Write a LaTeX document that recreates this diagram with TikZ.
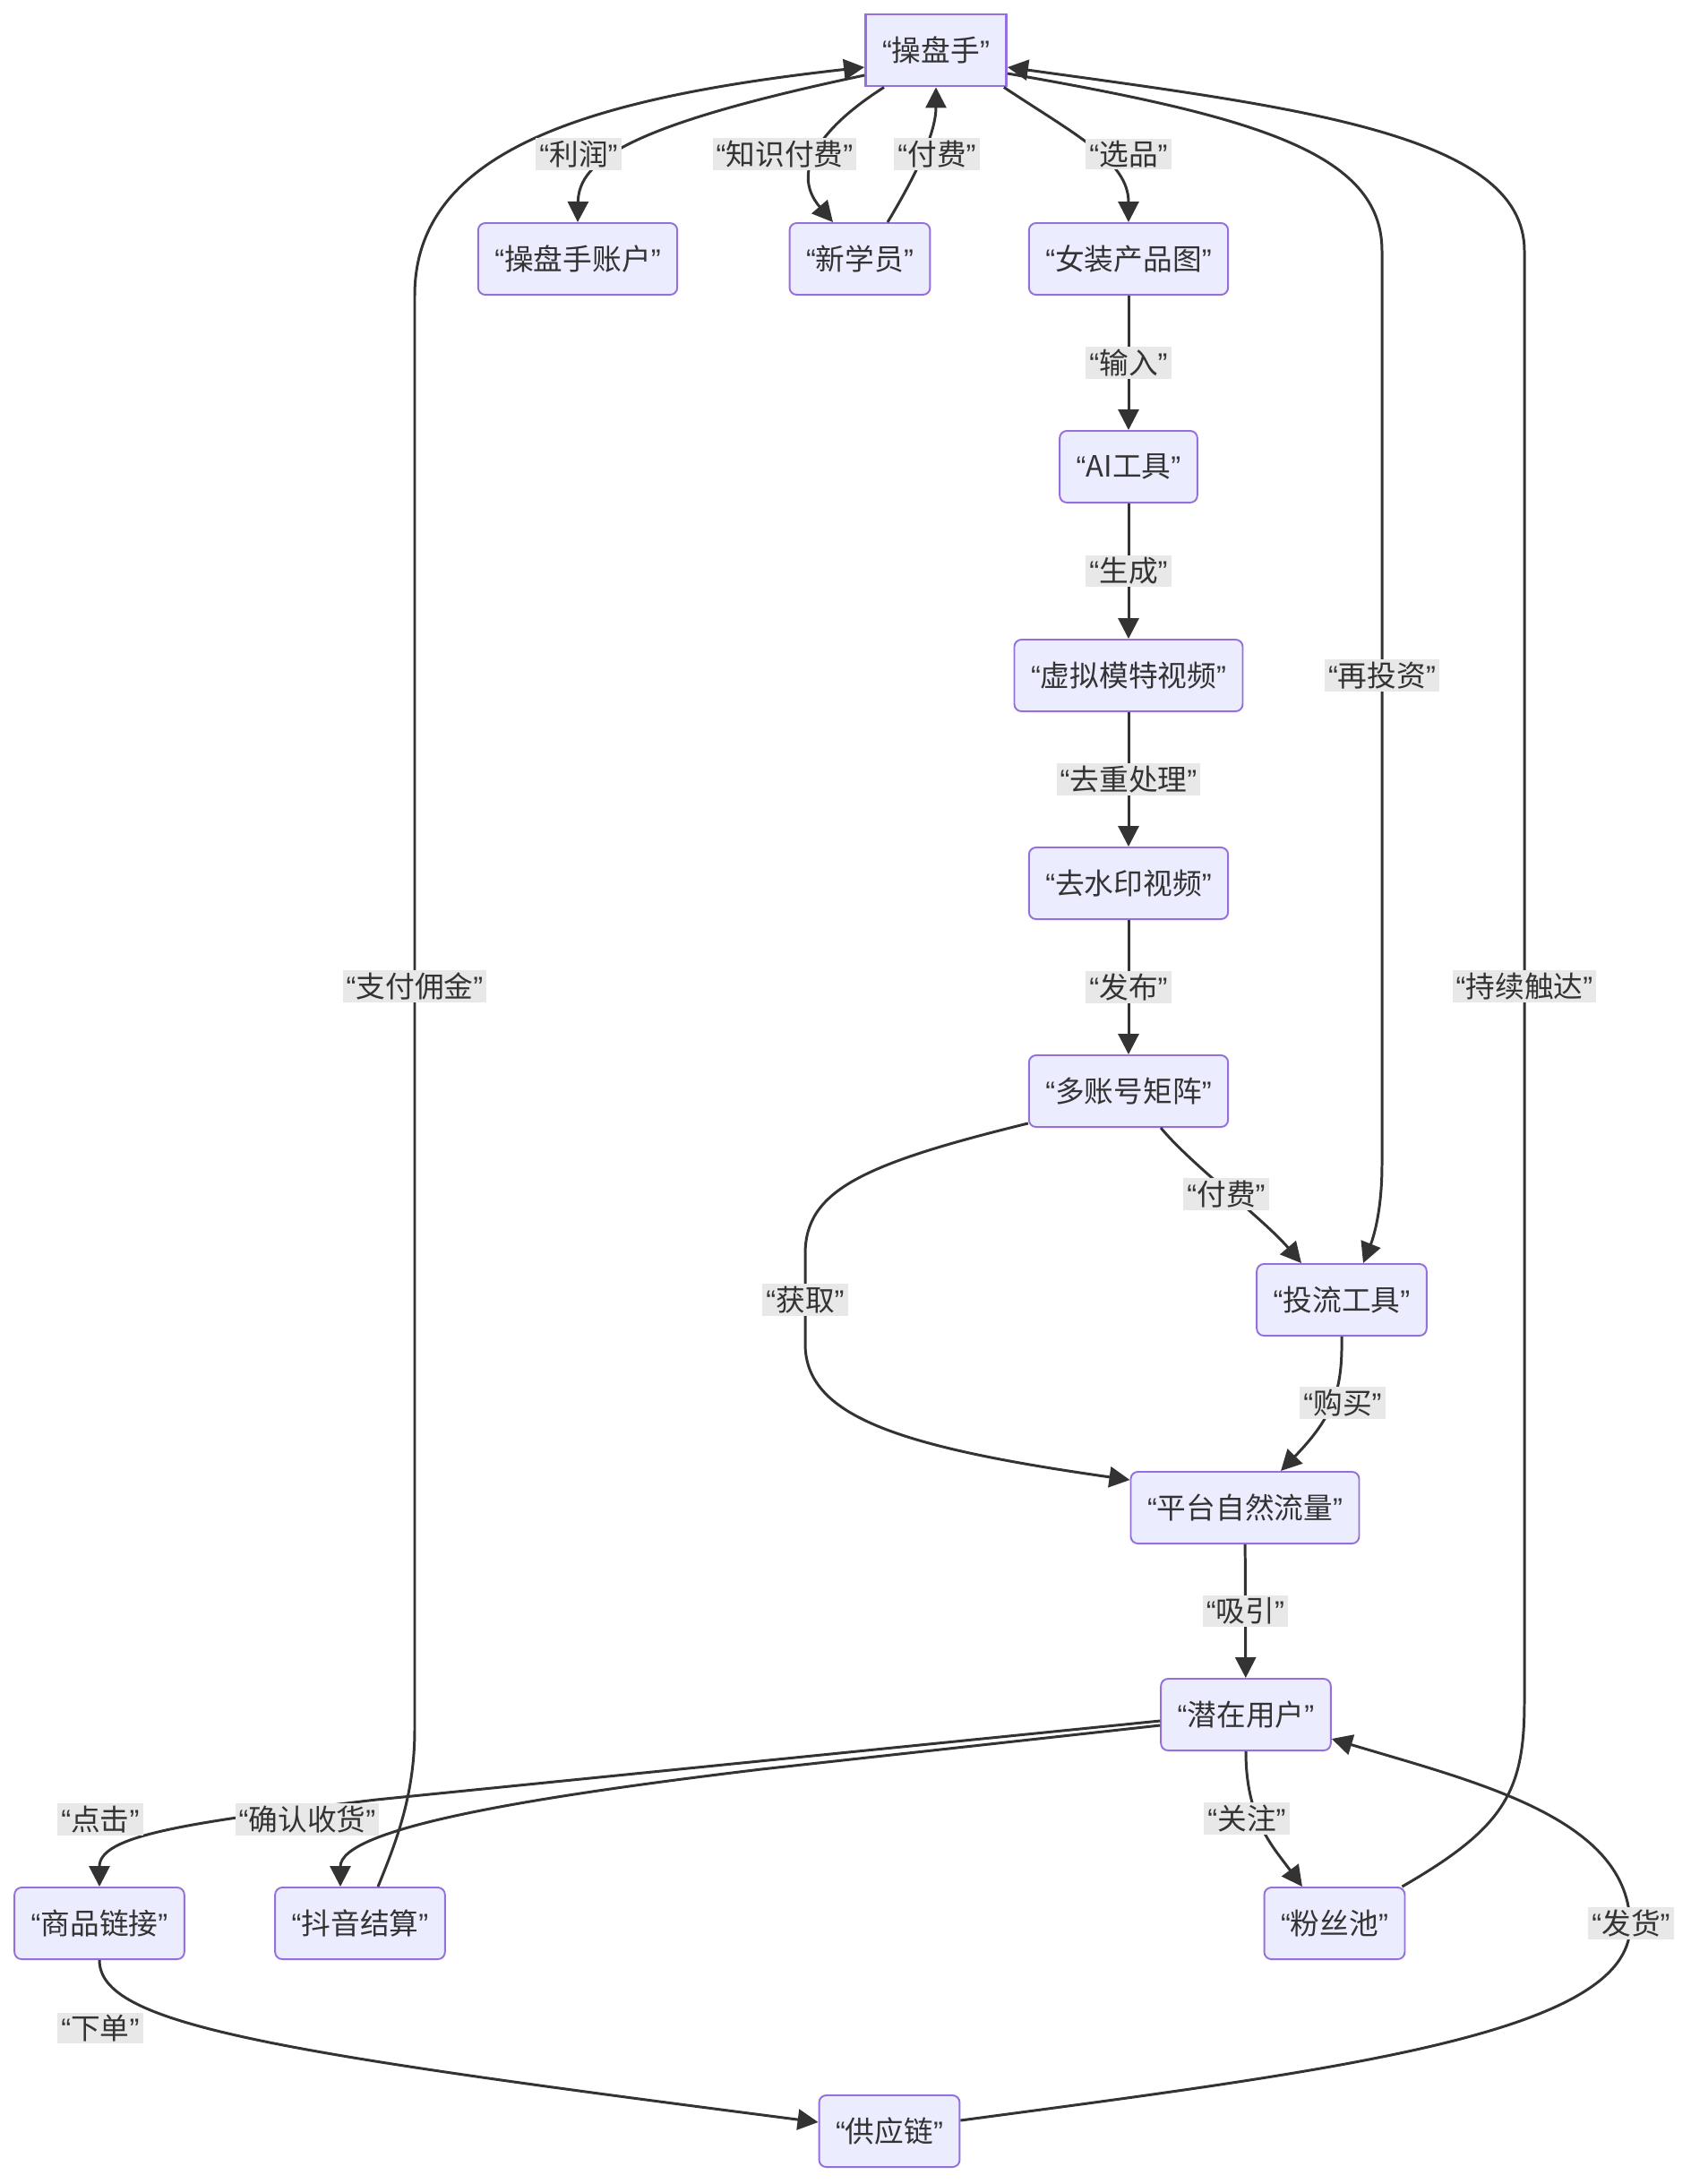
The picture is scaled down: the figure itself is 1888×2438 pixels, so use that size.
\documentclass[tikz,border=0pt]{standalone}
\usepackage{fontspec}
\setmainfont{Noto Sans CJK SC}
\newfontfamily\quotefont{Liberation Sans}
\definecolor{flowFill}{HTML}{ECECFF}
\definecolor{flowBorder}{HTML}{9370DB}
\definecolor{flowInk}{HTML}{333333}
\definecolor{flowTag}{HTML}{E8E8E8}
\usetikzlibrary{arrows.meta, positioning, calc}
\newcommand{\qt}[1]{{\quotefont “}#1{\quotefont ”}}

\begin{document}
\begin{tikzpicture}[x=0.01cm, y=-0.01cm,
      box/.style={draw=flowBorder, fill=flowFill, line width=0.55pt, rounded corners=0.08cm,
                  minimum height=0.8cm, inner xsep=0.185cm, text=flowInk, font=\fontsize{9.3}{11}\selectfont},
      rootbox/.style={box, sharp corners, line width=0.8pt},
      tag/.style={fill=flowTag, inner xsep=0.04cm, inner ysep=0.025cm, text=flowInk, font=\fontsize{9.3}{11}\selectfont},
      flow/.style={draw=flowInk, line width=0.85pt, -{Triangle[length=0.23cm, width=0.23cm]}}]

      \useasboundingbox (0,0) rectangle (1888,2438);

      % Nodes
      \node[rootbox] (op) at (1045,56) {\qt{操盘手}};
      \node[box] (account) at (645,289) {\qt{操盘手账户}};
      \node[box] (student) at (960,289) {\qt{新学员}};
      \node[box] (product) at (1260,289) {\qt{女装产品图}};
      \node[box] (aitool) at (1260,521) {\qt{AI工具}};
      \node[box] (model) at (1260,754) {\qt{虚拟模特视频}};
      \node[box] (clean) at (1260,986) {\qt{去水印视频}};
      \node[box] (matrix) at (1260,1218) {\qt{多账号矩阵}};
      \node[box] (boost) at (1498,1451) {\qt{投流工具}};
      \node[box] (traffic) at (1390,1683) {\qt{平台自然流量}};
      \node[box] (user) at (1391,1914) {\qt{潜在用户}};
      \node[box] (link) at (111,2147) {\qt{商品链接}};
      \node[box] (settle) at (402,2147) {\qt{抖音结算}};
      \node[box] (fans) at (1490,2147) {\qt{粉丝池}};
      \node[box] (supply) at (993,2379) {\qt{供应链}};

      % Top fan-out
      \draw[flow] ([yshift=-0.28cm]op.west) .. controls (700,140) and (646,180) .. (account.north);
      \draw[flow] ([xshift=-0.58cm]op.south) .. controls (920,140) and (880,190) .. ([xshift=-0.3cm]student.north);
      \draw[flow] ([xshift=0.31cm]student.north) .. controls (1020,200) and (1045,150) .. (op.south);
      \draw[flow] ([xshift=-0.04cm]op.south east) .. controls (1200,150) and (1260,180) .. (product.north);

      % Content pipeline
      \draw[flow] (product) -- node[tag] {\qt{输入}} (aitool);
      \draw[flow] (aitool) -- node[tag] {\qt{生成}} (model);
      \draw[flow] (model) -- node[tag] {\qt{去重处理}} (clean);
      \draw[flow] (clean) -- node[tag] {\qt{发布}} (matrix);

      % Traffic
      \draw[flow] ([xshift=0.36cm]matrix.south) .. controls (1330,1300) and (1410,1360) .. ([xshift=-0.45cm]boost.north);
      \draw[flow] ([yshift=0.05cm]matrix.south west) .. controls (960,1300) and (899,1330) .. (899,1400)
                  -- (899,1500) .. controls (899,1580) and (1000,1615) .. ([yshift=-0.1cm]traffic.north west);
      \draw[flow] (boost.south) .. controls (1499,1550) and (1490,1580) .. ([xshift=0.4cm]traffic.north);
      \draw[flow] (traffic) -- node[tag] {\qt{吸引}} (user);
      \draw[flow] ([yshift=-0.26cm]op.east) .. controls (1400,130) and (1543,170) .. (1543,280)
                  -- (1543,1300) .. controls (1543,1360) and (1530,1390) .. ([xshift=0.24cm]boost.north);

      % Users and orders
      \draw[flow] (user.south) .. controls (1391,2030) and (1420,2060) .. ([xshift=-0.36cm]fans.north);
      \draw[flow] ([yshift=-0.07cm]user.west) -- (420,2009) .. controls (200,2035) and (111,2050) .. (link.north);
      \draw[flow] ([yshift=-0.12cm]user.west) -- (850,1975) .. controls (600,2005) and (380,2040) .. ([xshift=-0.22cm]settle.north);
      \draw[flow] (link.south) .. controls (111,2260) and (300,2290) .. ([yshift=0.1cm]supply.west);
      \draw[flow] ([yshift=0.12cm]supply.east) .. controls (1500,2310) and (1820,2270) .. (1820,2150)
                  .. controls (1820,2030) and (1650,1990) .. ([yshift=-0.27cm]user.east);

      % Loops back to the operator
      \draw[flow] ([xshift=0.2cm]settle.north) .. controls (445,2050) and (463,2000) .. (463,1930)
                  -- (463,330) .. controls (463,170) and (650,110) .. ([yshift=-0.19cm]op.west);
      \draw[flow] ([xshift=-0.04cm]fans.north east) .. controls (1680,2040) and (1702,2000) .. (1702,1900)
                  -- (1702,280) .. controls (1702,150) and (1450,120) .. ([yshift=-0.19cm]op.east);

      % Edge labels
      \node[tag] (tProfit) at (646,172) {\qt{利润}};
      \node[tag] (tCourse) at (876,172) {\qt{知识付费}};
      \node[tag] (tFee) at (1046,172) {\qt{付费}};
      \node[tag] (tPick) at (1260,172) {\qt{选品}};
      \node[tag] (tPay) at (1369,1333) {\qt{付费}};
      \node[tag] (tGain) at (899,1451) {\qt{获取}};
      \node[tag] (tReinvest) at (1543,754) {\qt{再投资}};
      \node[tag] (tReach) at (1702,1101) {\qt{持续触达}};
      \node[tag] (tCommission) at (463,1101) {\qt{支付佣金}};
      \node[tag] (tBuy) at (1499,1566) {\qt{购买}};
      \node[tag] (tFollow) at (1392,2030) {\qt{关注}};
      \node[tag] (tClick) at (112,2031) {\qt{点击}};
      \node[tag] (tReceive) at (343,2031) {\qt{确认收货}};
      \node[tag] (tShip) at (1821,2147) {\qt{发货}};
      \node[tag] (tOrder) at (112,2264) {\qt{下单}};
   \end{tikzpicture}
\end{document}
